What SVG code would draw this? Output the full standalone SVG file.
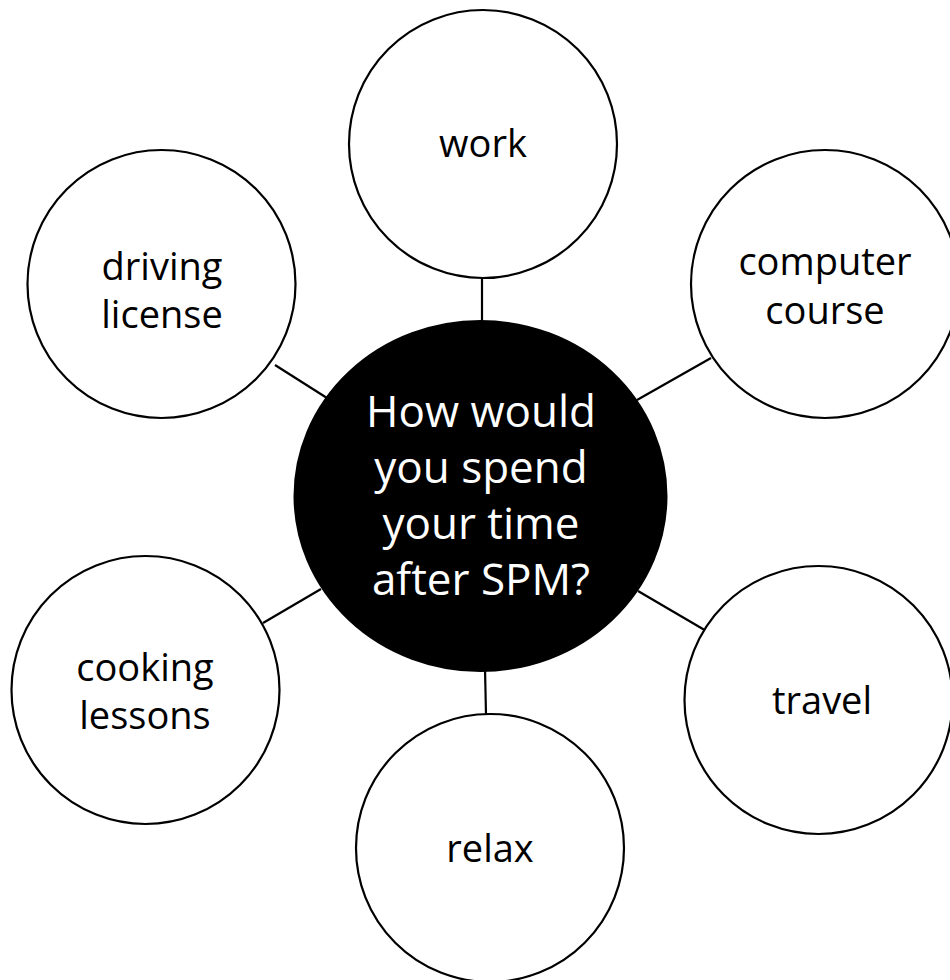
<svg xmlns="http://www.w3.org/2000/svg" width="950" height="980" viewBox="0 0 950 980">
<style>
.n{fill:#fff;stroke:#000;stroke-width:2.2}
.c{fill:#000;stroke:#000;stroke-width:2}
.t{font-family:"Open Sans","Noto Sans","Liberation Sans",sans-serif;font-size:38px;fill:#000;text-anchor:middle}
.ct{font-family:"Open Sans","Noto Sans","Liberation Sans",sans-serif;font-size:44px;fill:#fff;text-anchor:middle}
.l{stroke:#000;stroke-width:2.2;fill:none}
</style>
<rect width="950" height="980" fill="#fff"/>
<g id="connectors">
<line class="l" x1="482" y1="278" x2="482" y2="322"/>
<line class="l" x1="485" y1="668" x2="486" y2="715"/>
<line class="l" x1="275" y1="365" x2="327" y2="398"/>
<line class="l" x1="637" y1="400" x2="711" y2="358"/>
<line class="l" x1="263" y1="623" x2="321" y2="589"/>
<line class="l" x1="638" y1="591" x2="708" y2="632"/>
</g>
<g id="center">
<ellipse class="c" cx="480.5" cy="496" rx="186" ry="175"/>
<text class="ct" x="481" y="427">How would</text>
<text class="ct" x="481" y="483">you spend</text>
<text class="ct" x="481" y="539">your time</text>
<text class="ct" x="481" y="595">after SPM?</text>
</g>
<g id="work">
<circle class="n" cx="483" cy="144" r="134"/>
<text class="t" x="483" y="157">work</text>
</g>
<g id="driving">
<circle class="n" cx="161.5" cy="284" r="134"/>
<text class="t" x="162" y="280">driving</text>
<text class="t" x="162" y="328">license</text>
</g>
<g id="computer">
<circle class="n" cx="825" cy="284" r="134"/>
<text class="t" x="825" y="275">computer</text>
<text class="t" x="825" y="324">course</text>
</g>
<g id="cooking">
<circle class="n" cx="145.5" cy="690" r="134"/>
<text class="t" x="145" y="681">cooking</text>
<text class="t" x="145" y="729">lessons</text>
</g>
<g id="travel">
<circle class="n" cx="818.5" cy="700" r="134"/>
<text class="t" x="822" y="714">travel</text>
</g>
<g id="relax">
<circle class="n" cx="490" cy="848" r="134"/>
<text class="t" x="490" y="862">relax</text>
</g>
</svg>
